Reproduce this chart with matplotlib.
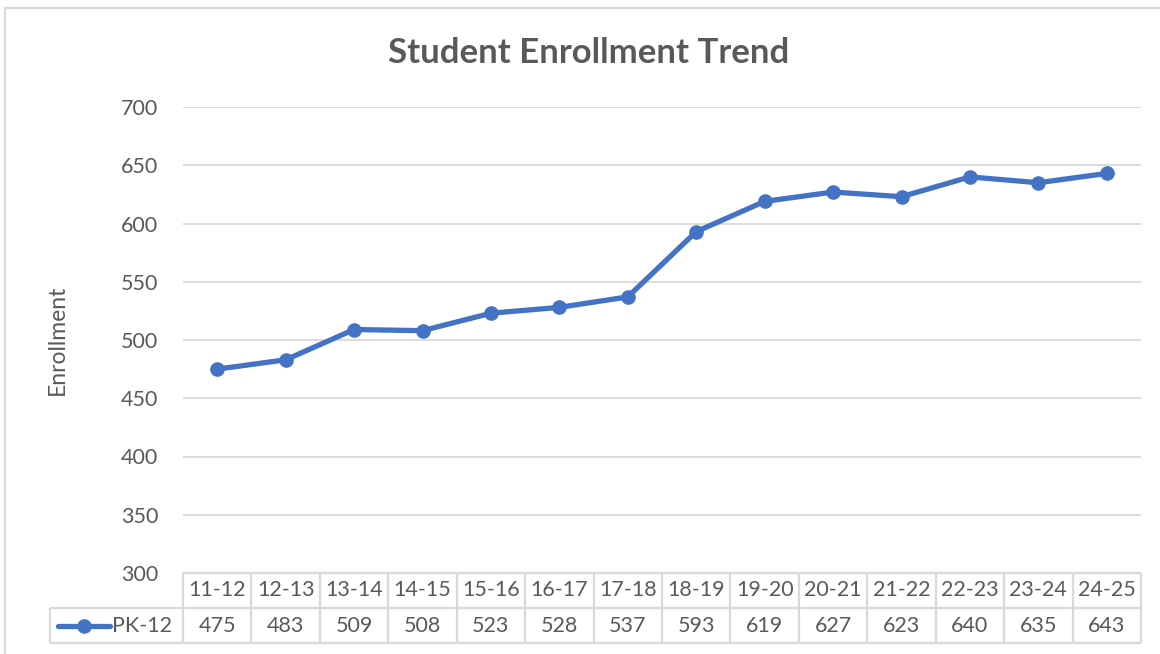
import matplotlib.pyplot as plt
from matplotlib.patches import Rectangle

# school years and PK-12 enrollment
years = ['11-12', '12-13', '13-14', '14-15', '15-16', '16-17', '17-18',
         '18-19', '19-20', '20-21', '21-22', '22-23', '23-24', '24-25']
enrollment = [475, 483, 509, 508, 523, 528, 537, 593, 619, 627, 623, 640, 635, 643]
series_name = 'PK-12'
y_ticks = [300, 350, 400, 450, 500, 550, 600, 650, 700]

W, H = 1160, 654
TEXT = '#595959'
GRID = '#D9D9D9'
BLUE = '#4472C4'
FS = 15.5

plt.rcParams['font.family'] = ['Lato', 'DejaVu Sans']

fig = plt.figure(figsize=(W / 100, H / 100), dpi=100)

# chart border (left and top edges visible)
fig.patches.append(Rectangle((5 / W, -0.1), 1.2, (H - 8) / H + 0.1,
                             transform=fig.transFigure, fill=False,
                             edgecolor=GRID, linewidth=1.5))

left, right = 183 / W, 1141 / W
top, bottom = 1 - 107 / H, 1 - 573 / H
ax = fig.add_axes([left, bottom, right - left, top - bottom])

x = list(range(len(years)))
ax.plot(x, enrollment, color=BLUE, linewidth=3.8, marker='o', markersize=9.5,
        solid_capstyle='round', zorder=3)
ax.set_xlim(-0.5, len(years) - 0.5)
ax.set_ylim(300, 700)
ax.set_yticks(y_ticks)
ax.set_xticks([])
ax.grid(axis='y', color=GRID, linewidth=1.3)
ax.set_axisbelow(True)
for s in ax.spines.values():
    s.set_visible(False)
ax.tick_params(axis='y', length=0, pad=18, labelsize=FS, labelcolor=TEXT)
ax.set_ylabel('Enrollment', fontsize=16.5, color=TEXT)
ax.yaxis.set_label_coords((68 - 183) / (1141 - 183), 0.5)

fig.text(589 / W, 1 - 53 / H, 'Student Enrollment Trend', ha='center',
         va='center', fontsize=25, fontweight='bold', color=TEXT)

# data table under the plot
tb = fig.add_axes([left, 1 - 643 / H, right - left, (643 - 573) / H], sharex=ax)
tb.set_ylim(0, 2)
tb.axis('off')
col_w = (1141 - 183) / len(years)


def px_x(px):
    return -0.5 + (px - 183) / col_w


n = len(years)
lw = 1.6
tb.hlines([1, 2], -0.5, n - 0.5, color=GRID, linewidth=lw, clip_on=False)
tb.hlines([0, 1], px_x(50), n - 0.5, color=GRID, linewidth=lw, clip_on=False)
tb.vlines([i - 0.5 for i in range(n + 1)], 0, 2, color=GRID, linewidth=lw, clip_on=False)
tb.vlines([px_x(50)], 0, 1, color=GRID, linewidth=lw, clip_on=False)
for i, (yr, v) in enumerate(zip(years, enrollment)):
    tb.text(i, 1.5, yr, ha='center', va='center', fontsize=FS, color=TEXT)
    tb.text(i, 0.5, str(v), ha='center', va='center', fontsize=FS, color=TEXT)

tb.plot([px_x(58), px_x(110)], [0.5, 0.5], color=BLUE, linewidth=3.8,
        solid_capstyle='round', clip_on=False)
tb.plot([px_x(84)], [0.5], 'o', color=BLUE, markersize=9.5, clip_on=False)
tb.text(px_x(112), 0.5, series_name, ha='left', va='center', fontsize=FS, color=TEXT)

fig.savefig('out.png', dpi=100)
